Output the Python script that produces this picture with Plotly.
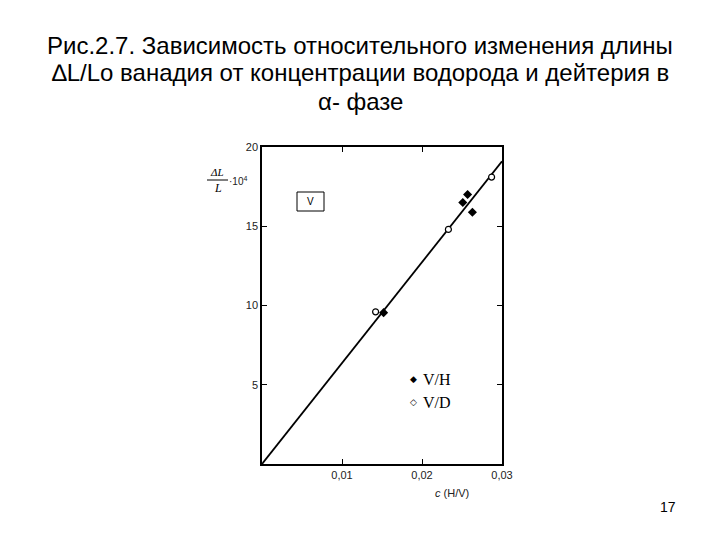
import plotly.graph_objects as go

# Data
vh_c = [0.0152, 0.0251, 0.0257, 0.0263]
vh_dl = [9.55, 16.50, 17.00, 15.88]
vd_c = [0.0142, 0.0233, 0.0287]
vd_dl = [9.60, 14.80, 18.10]
fit_c = [0.0, 0.030]
fit_dl = [0.0, 19.1]

x_tickvals = [0.01, 0.02, 0.03]
x_ticktext = ["0,01", "0,02", "0,03"]
y_tickvals = [5, 10, 15, 20]
y_ticktext = ["5", "10", "15", "20"]

series_names = ["V/H", "V/D"]

title_lines = [
    "Рис.2.7. Зависимость относительного изменения длины",
    "∆L/Lo ванадия от концентрации водорода и дейтерия в",
    "α- фазе",
]

# page body margin offset (figure sits at 8,8 in the window)
OFF = 8
W, H = 720 - 2 * OFF, 540 - 2 * OFF
# plot area in window pixels
L, R, T, B = 262, 502, 147, 464

def px(x):
    return (x - L) / (R - L)

def py(y):
    return (B - y) / (B - T)

fig = go.Figure()
fig.add_trace(go.Scatter(x=fit_c, y=fit_dl, mode="lines",
                         line=dict(color="black", width=1.8),
                         showlegend=False, hoverinfo="skip"))
fig.add_trace(go.Scatter(x=vh_c, y=vh_dl, mode="markers", name=series_names[0],
                         showlegend=False,
                         marker=dict(symbol="diamond", size=7, color="black")))
fig.add_trace(go.Scatter(x=vd_c, y=vd_dl, mode="markers", name=series_names[1],
                         showlegend=False,
                         marker=dict(symbol="circle", size=6, color="white",
                                     line=dict(width=1.2, color="black"))))

axis_common = dict(showline=True, linecolor="black", linewidth=1.5, mirror="ticks",
                   ticks="inside", ticklen=5, tickcolor="black", tickwidth=1,
                   showgrid=False, zeroline=False,
                   tickfont=dict(family="Liberation Sans", size=11, color="#222"))

fig.update_xaxes(range=[0, 0.03], tickvals=x_tickvals, ticktext=x_ticktext, **axis_common)
fig.update_yaxes(range=[0, 20], tickvals=y_tickvals, ticktext=y_ticktext, **axis_common)

annotations = []
for i, line in enumerate(title_lines):
    annotations.append(dict(text=line, xref="paper", yref="paper",
                            x=px(360), y=py(45 + 28 * i), xanchor="center", yanchor="middle",
                            showarrow=False,
                            font=dict(family="Liberation Sans", size=24, color="black")))
# y-axis label as a fraction
annotations += [
    dict(text="<i>ΔL</i>", xref="paper", yref="paper", x=px(217), y=py(172),
         xanchor="center", yanchor="middle", showarrow=False,
         font=dict(family="Liberation Serif", size=11, color="black")),
    dict(text="<i>L</i>", xref="paper", yref="paper", x=px(218), y=py(188),
         xanchor="center", yanchor="middle", showarrow=False,
         font=dict(family="Liberation Serif", size=12, color="black")),
    dict(text="·10<sup>4</sup>", xref="paper", yref="paper", x=px(227), y=py(181),
         xanchor="left", yanchor="middle", showarrow=False,
         font=dict(family="Liberation Sans", size=10, color="#222")),
    dict(text="<i>c</i> (H/V)", xref="paper", yref="paper", x=px(452), y=py(493),
         xanchor="center", yanchor="middle", showarrow=False,
         font=dict(family="Liberation Sans", size=11, color="#222")),
    dict(text="V", xref="paper", yref="paper", x=px(310.5), y=py(201),
         xanchor="center", yanchor="middle", showarrow=False,
         font=dict(family="Liberation Sans", size=10, color="black")),
    dict(text="17", xref="paper", yref="paper", x=px(668), y=py(507),
         xanchor="center", yanchor="middle", showarrow=False,
         font=dict(family="Liberation Sans", size=14, color="black")),
]
# legend drawn as text
legend_symbols = ["◆", "◇"]
for i, (sym, name) in enumerate(zip(legend_symbols, series_names)):
    yy = 379 + 23 * i
    annotations.append(dict(text=sym, xref="paper", yref="paper", x=px(413), y=py(yy),
                            xanchor="center", yanchor="middle", showarrow=False,
                            font=dict(family="DejaVu Sans", size=9, color="black")))
    annotations.append(dict(text=name, xref="paper", yref="paper", x=px(421), y=py(yy),
                            xanchor="left", yanchor="middle", showarrow=False,
                            font=dict(family="Liberation Serif", size=16, color="black")))

shapes = [
    dict(type="line", xref="paper", yref="paper", x0=px(207), x1=px(228),
         y0=py(180), y1=py(180), line=dict(color="black", width=1)),
    dict(type="rect", xref="paper", yref="paper", x0=px(297), x1=px(324),
         y0=py(192), y1=py(211), line=dict(color="black", width=1)),
]

fig.update_layout(
    width=W, height=H,
    margin=dict(l=L - OFF, r=W - (R - OFF), t=T - OFF, b=H - (B - OFF)),
    plot_bgcolor="white", paper_bgcolor="white",
    annotations=annotations, shapes=shapes,
    showlegend=False,
)

fig.write_html("out.html")
